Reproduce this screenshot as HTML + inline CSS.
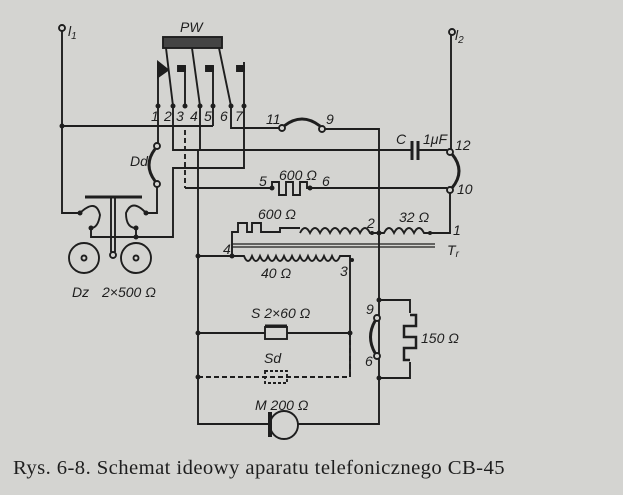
<!DOCTYPE html>
<html><head><meta charset="utf-8"><style>
html,body{margin:0;padding:0;background:#d4d4d1;}
svg{display:block}
text{font-family:"Liberation Sans",sans-serif;font-style:italic;fill:#1e1e1e;font-size:14px}
</style></head><body>
<svg width="623" height="495" viewBox="0 0 623 495" xmlns="http://www.w3.org/2000/svg">
<rect width="623" height="495" fill="#d4d4d1"/>
<g stroke="#1e1e1e" stroke-width="1.9" fill="none">
<circle cx="62" cy="28" r="3"/>
<path d="M62 31 V213 H80"/>
<rect x="163" y="37" width="59" height="11" fill="#444"/>
<path d="M166 48 L173 106 M192 48 L200 106 M219 48 L231 106"/>
<path d="M158 62 V106 M185 66 V106 M213 66 V126 M244 62 V168 H173 V237 H136"/>
<path d="M158 62 L168 70 L158 77 Z" fill="#1e1e1e"/>
<path d="M178 66 H185 V71 H178Z M206 66 H213 V71 H206Z M237 66 H244 V71 H237Z" fill="#1e1e1e"/>
<path d="M62 126 H213"/>
<path d="M231 106 V128 H279"/>
<circle cx="282" cy="128" r="3"/>
<path d="M284 126 Q302 112 320 126" stroke-width="3"/>
<circle cx="322" cy="129" r="3"/>
<path d="M325 129 H379 V424 H298"/>
<path d="M173 106 V150 H412 M418 150 H447"/>
<path d="M412 141 V160 M418 141 V160" stroke-width="3"/>
<circle cx="450" cy="152" r="3"/>
<path d="M452 154 Q466 171 452 188" stroke-width="3"/>
<circle cx="450" cy="190" r="3"/>
<circle cx="452" cy="32" r="3"/>
<path d="M451 35 V149"/>
<path d="M450 193 V233 H430"/>
<path d="M185 130 V188" stroke-dasharray="5,3"/>
<path d="M185 188 H272 V182 H279 V195 H286 V182 H293 V195 H300 V182 H307 V188 H447"/>
<path d="M200 106 V150"/><path d="M198 150 V424 H268"/>
<path d="M158 106 V143"/>
<circle cx="157" cy="146" r="3"/>
<path d="M155 149 Q143 165 155 181" stroke-width="3"/>
<circle cx="157" cy="184" r="3"/>
<path d="M157 187 V213 H146"/>
<path d="M85 197 H142" stroke-width="3"/>
<path d="M111 197 V252 M115 197 V252"/>
<circle cx="113" cy="255" r="3"/>
<path d="M80 213 Q96 198 100 215 Q98 228 91 228 V237 H136 V228"/>
<path d="M146 213 Q132 198 126 213 Q126 228 136 228"/>
<circle cx="84" cy="258" r="15"/><circle cx="136" cy="258" r="15"/>
<circle cx="84" cy="258" r="2.5"/><circle cx="136" cy="258" r="2.5"/>
<path d="M198 256 H232 V232 H238 V223 H247 V232 H252 V223 H261 V232 H280 V228 H300"/>
<path d="M300 233 q5 -10 10 0 q5 -10 10 0 q5 -10 10 0 q5 -10 10 0 q5 -10 10 0 q5 -10 10 0 q5 -10 10 0 H379"/>
<path d="M379 233 H384 q5 -10 10 0 q5 -10 10 0 q5 -10 10 0 q5 -10 10 0 H430"/>
<path d="M232 244 H435 M232 247 H435" stroke-width="1.2"/>
<path d="M232 256 H244 q4 10 8 0 q4 10 8 0 q4 10 8 0 q4 10 8 0 q4 10 8 0 q4 10 8 0 q4 10 8 0 q4 10 8 0 q4 10 8 0 q4 10 8 0 q4 10 8 0 q4 10 8 0 H350 V377"/>
<path d="M198 333 H265 M287 333 H350"/>
<rect x="265" y="327" width="22" height="12"/>
<path d="M265 326 H287" stroke-width="3"/>
<path d="M198 377 H350 V333" stroke-dasharray="5,3"/>
<rect x="265" y="371" width="22" height="12" stroke-dasharray="3,2"/>
<path d="M270 412 V437" stroke-width="4"/>
<circle cx="284" cy="425" r="14"/>
<path d="M379 300 H410 V313 M379 378 H410 V362"/>
<path d="M410 315 H416 V326 H404 V337 H416 V348 H404 V360 H410" stroke-width="2.5"/>
<circle cx="377" cy="318" r="3" fill="#d4d4d1"/><circle cx="377" cy="356" r="3" fill="#d4d4d1"/>
<path d="M375 321 Q366 337 375 353" stroke-width="3"/>
</g>
<g fill="#1e1e1e">
<circle cx="62" cy="126" r="2.5"/><circle cx="158" cy="106" r="2.5"/><circle cx="173" cy="106" r="2.5"/><circle cx="185" cy="106" r="2.5"/><circle cx="200" cy="106" r="2.5"/><circle cx="213" cy="106" r="2.5"/><circle cx="231" cy="106" r="2.5"/><circle cx="244" cy="106" r="2.5"/>
<circle cx="272" cy="188" r="2.5"/><circle cx="310" cy="188" r="2.5"/><circle cx="198" cy="256" r="2.5"/><circle cx="232" cy="256" r="2.5"/><circle cx="379" cy="233" r="2.5"/><circle cx="372" cy="233" r="2"/><circle cx="430" cy="233" r="2"/><circle cx="352" cy="260" r="2"/>
<circle cx="198" cy="333" r="2.5"/><circle cx="350" cy="333" r="2.5"/><circle cx="198" cy="377" r="2.5"/><circle cx="379" cy="300" r="2.5"/><circle cx="379" cy="378" r="2.5"/>
<circle cx="80" cy="213" r="2.5"/><circle cx="146" cy="213" r="2.5"/><circle cx="91" cy="228" r="2.5"/><circle cx="136" cy="228" r="2.5"/><circle cx="136" cy="237" r="2.5"/>
</g>
<text x="68" y="36">l<tspan font-size="10" dy="3">1</tspan></text>
<text x="455" y="40">l<tspan font-size="10" dy="3">2</tspan></text>
<text x="180" y="32">PW</text>
<text x="151" y="121">1</text><text x="164" y="121">2</text><text x="176" y="121">3</text><text x="190" y="121">4</text><text x="204" y="121">5</text><text x="220" y="121">6</text><text x="235" y="121">7</text>
<text x="266" y="124">11</text><text x="326" y="124">9</text>
<text x="396" y="144">C</text><text x="423" y="144">1μF</text>
<text x="455" y="150">12</text><text x="457" y="194">10</text>
<text x="130" y="166">Dd</text>
<text x="259" y="186">5</text><text x="279" y="180">600 Ω</text><text x="322" y="186">6</text>
<text x="258" y="219">600 Ω</text><text x="367" y="228">2</text><text x="399" y="222">32 Ω</text><text x="453" y="235">1</text><text x="447" y="255">T<tspan font-size="10" dy="2">r</tspan></text>
<text x="223" y="254">4</text><text x="261" y="278">40 Ω</text><text x="340" y="276">3</text>
<text x="72" y="297">Dz</text><text x="102" y="297">2×500 Ω</text>
<text x="251" y="318">S 2×60 Ω</text><text x="264" y="363">Sd</text>
<text x="255" y="410">M 200 Ω</text>
<text x="366" y="314">9</text><text x="365" y="366">6</text><text x="421" y="343">150 Ω</text>
<text x="13" y="474" style="font-family:'Liberation Serif',serif;font-style:normal;font-size:20px;letter-spacing:0.4px" fill="#2a2a2a" textLength="492" lengthAdjust="spacingAndGlyphs">Rys. 6-8. Schemat ideowy aparatu telefonicznego CB-45</text>
</svg>
</body></html>
